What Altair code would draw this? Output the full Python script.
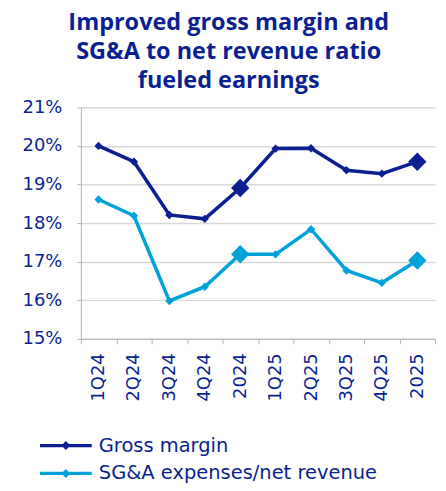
import altair as alt
import pandas as pd

periods = ["1Q24", "2Q24", "3Q24", "4Q24", "2024", "1Q25", "2Q25", "3Q25", "4Q25", "2025"]
kinds = ["quarter", "quarter", "quarter", "quarter", "year", "quarter", "quarter", "quarter", "quarter", "year"]
gross_margin = [20.0, 19.59, 18.21, 18.11, 18.91, 19.93, 19.94, 19.37, 19.28, 19.59]
sga_ratio = [18.61, 18.19, 15.98, 16.35, 17.19, 17.19, 17.84, 16.77, 16.45, 17.03]
series_names = ["Gross margin", "SG&A expenses/net revenue"]
series_colors = ["#0b1f91", "#00a2d9"]
y_ticks = [15, 16, 17, 18, 19, 20, 21]

rows = []
for name, vals in zip(series_names, [gross_margin, sga_ratio]):
    for p, k, v in zip(periods, kinds, vals):
        rows.append({"period": p, "kind": k, "series": name, "value": v})
df = pd.DataFrame(rows)

FONT = "DejaVu Sans"
TFONT = "Open Sans"
NAVY = "#0b1f91"

# legend symbol: line with small diamond, drawn wider than the unit box
legend_path = "M-1.73,-0.11H1.73V0.11H-1.73Z M0,-0.3L0.3,0L0,0.3L-0.3,0Z"

x = alt.X("period:N", sort=periods, title=None,
          scale=alt.Scale(type="band", paddingInner=0, paddingOuter=0),
          axis=alt.Axis(tickBand="extent", tickExtra=True, labelAngle=270, grid=False,
                        domainColor="#b3b3b3", tickColor="#b3b3b3", tickSize=5,
                        labelFontSize=18, labelColor=NAVY, labelFont=FONT, labelPadding=9))
y = alt.Y("value:Q", title=None,
          scale=alt.Scale(domain=[15, 21], nice=False, zero=False),
          axis=alt.Axis(values=y_ticks, labelExpr="datum.value + '%'", grid=True,
                        gridColor="#d9d9d9", gridWidth=1.5, domainColor="#b3b3b3",
                        tickColor="#b3b3b3", tickSize=4, labelFontSize=18,
                        labelColor=NAVY, labelFont=FONT, labelPadding=15))
color = alt.Color("series:N", sort=series_names,
                  scale=alt.Scale(domain=series_names, range=series_colors),
                  legend=alt.Legend(title=None, orient="none", legendX=-30, legendY=324,
                                    symbolType=legend_path, symbolSize=900,
                                    symbolStrokeWidth=0, labelFontSize=19.5,
                                    labelColor=NAVY, labelFont=FONT, rowPadding=3,
                                    labelOffset=18, padding=0, labelLimit=400))

base = alt.Chart(df)
lines = base.mark_line(strokeWidth=3.5).encode(x=x, y=y, color=color)
points = base.mark_point(shape="diamond", filled=True, opacity=1).encode(
    x=x, y=y, color=color,
    size=alt.Size("kind:N", scale=alt.Scale(domain=["quarter", "year"], range=[70, 340]), legend=None),
)

chart = alt.layer(lines, points).properties(
    width=355, height=232,
    title=alt.TitleParams(
        text=["Improved gross margin and", "SG&A to net revenue ratio", "fueled earnings"],
        fontSize=23.5, fontWeight="bold", color=NAVY, font=TFONT, anchor="middle",
        lineHeight=29, offset=6, frame="bounds"),
    padding={"left": 13, "top": 2, "right": 2, "bottom": 0},
).configure_view(stroke=None)

chart.save("out.html", embed_options={"renderer": "svg", "actions": False})
